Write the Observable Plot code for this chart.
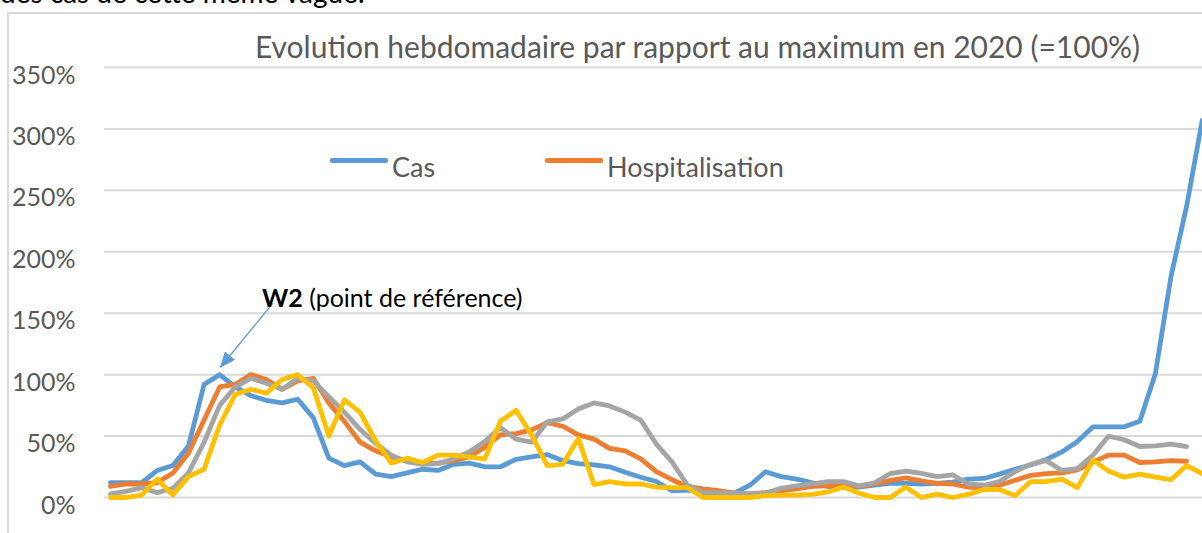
<!DOCTYPE html>
<html><head><meta charset="utf-8">
<script src="https://cdn.jsdelivr.net/npm/d3@7"></script>
<script src="https://cdn.jsdelivr.net/npm/@observablehq/plot@0.6"></script>
<style>
html,body{margin:0;padding:0;background:#fff;}
#wrap{position:relative;width:1202px;height:533px;overflow:hidden;font-family:Lato,sans-serif;}
#frame{position:absolute;left:7px;top:12px;width:1400px;height:800px;border:2px solid #d9d9d9;box-sizing:border-box;}
#above{position:absolute;left:0;top:-23.6px;font-size:28px;line-height:33.6px;color:#000;white-space:nowrap;}
#title{position:absolute;left:0;width:1395px;top:28.4px;text-align:center;font-size:30px;line-height:36px;color:#595959;white-space:nowrap;}
.leg{position:absolute;top:150.5px;font-size:27px;line-height:32.4px;color:#595959;white-space:nowrap;}
.legline{position:absolute;height:5px;top:157.5px;border-radius:2px;}
#ann{position:absolute;left:262px;top:282.3px;font-size:25px;line-height:30px;color:#000;white-space:nowrap;}
#chart{position:absolute;left:0;top:0;}
</style>
</head><body>
<div id="wrap">
  <div id="above">des cas de cette même vague.</div>
  <div id="frame"></div>
  <div id="chart"></div>
  <div id="title">Evolution hebdomadaire par rapport au maximum en 2020 (=100%)</div>
  <div class="legline" style="left:330px;width:58px;background:#5B9BD5"></div>
  <div class="leg" style="left:392px">Cas</div>
  <div class="legline" style="left:545px;width:58px;background:#ED7D31"></div>
  <div class="leg" style="left:607px">Hospitalisation</div>
  <div id="ann"><b>W2</b> (point de référence)</div>
</div>
<script>
// Weekly values relative to 2020 maximum (1 = 100%)
const seriesNames = ["Cas", "Hospitalisation", "Série 3", "Série 4"];
const seriesColors = ["#5B9BD5", "#ED7D31", "#A5A5A5", "#FFC000"];
const yTicks = [0, 0.5, 1, 1.5, 2, 2.5, 3, 3.5];

const cas = [12,12,12,22,26,42,92,100,90,83,
  79,77,80,65,32,26,29,19,17,20,
  23,22,27,28,25,25,31,33,35,30,
  27.5,26.5,25,20.5,16.5,13,5.5,6,4.5,4,
  3.5,10,21,17,15,12,9,8,8.5,10,
  11.5,11.5,11,11.5,12.5,15,15.5,19,23,26.5,
  31,37,45.5,57.5,57.5,57.5,62,101,180,237,
  307];
const hospitalisation = [9,11,11,12,20,36,63,90,92,100,
  96,88,95,97,77,62,45,38,33,30,
  28,28,30,33,41,51,52,55,61,58,
  51,47.5,40,38,31.5,21,14.5,9,7,5.5,
  3.5,3,4,5.5,7,9,9.5,10,9,11,
  14,16,13.5,11.5,11,8.5,7.5,10,14,18,
  19.5,20,22.5,29,34.5,34.5,28.5,29,30,29.5];
const serie3 = [3,5,8,4,7.5,20,45,75,90,97,
  93,88,97,95,82,69.5,55.5,44,34.5,29,
  27,27.5,31.5,37,45.5,57,47.5,45,61.5,64,
  72,77,74.5,69.5,63,43.5,29,10,4,4,
  3.5,3,3.5,7.5,9.5,11,13,13,9.5,12,
  19.5,21.5,19.7,17,18.5,11,10,13,21,27,
  30,22,23.5,34.5,50,47,41.5,42,43.5,41.5];
const serie4 = [0,0,2,15,2,17,23,59,84,88,
  85,96,100,89.5,50,79.5,69.5,46,28,32,
  28.5,34.5,34.5,33,31.5,62,71,51,26,27,
  48,10.5,13,11,11,8.5,8,8,0,0,
  0,0,1.5,2,2,2.5,4.5,8.5,3.5,0,
  0,8.5,0,2.7,0,2.5,6.5,6.5,1.5,13,
  13,15,8,30.5,21.5,16.5,19,16.5,14.5,26,19.5];

// Annotation arrow (data coordinates: week index, ratio)
const annFrom = {i: 10.4, v: 1.58};
const annTo = {i: 7.05, v: 1.06};

const allSeries = [cas, hospitalisation, serie3, serie4];
const rows = allSeries.flatMap((vals, k) => vals.map((v, i) => ({series: seriesNames[k], i, v: v / 100})));

const pct = d => Math.round(d * 100) + "%";

const chart = Plot.plot({
  width: 1202, height: 533,
  marginLeft: 104, marginRight: 0, marginTop: 67, marginBottom: 36,
  style: {background: "transparent", fontFamily: "Lato, sans-serif", overflow: "visible"},
  x: {domain: [0, 70], range: [110, 1201.7], axis: null},
  y: {domain: [0, 3.5], axis: null},
  color: {domain: seriesNames, range: seriesColors},
  marks: [
    Plot.gridY(yTicks, {stroke: "#d9d9d9", strokeOpacity: 1, strokeWidth: 2}),
    Plot.axisY(yTicks, {tickSize: 0, tickPadding: 29, fontSize: 25, fill: "#595959", dy: 8, tickFormat: pct}),
    Plot.line(rows, {x: "i", y: "v", z: "series", stroke: "series", strokeWidth: 4.8, strokeLinejoin: "round", strokeLinecap: "round"}),
    Plot.link([{x1: annFrom.i, y1: annFrom.v, x2: annTo.i, y2: annTo.v}], {x1: "x1", y1: "y1", x2: "x2", y2: "y2", stroke: "#5B9BD5", strokeWidth: 1.3, className: "annarrow"})
  ]
});
document.getElementById("chart").appendChild(chart);

// filled arrowhead for the annotation
const ns = "http://www.w3.org/2000/svg";
const defs = document.createElementNS(ns, "defs");
const marker = document.createElementNS(ns, "marker");
marker.setAttribute("id", "ahead");
marker.setAttribute("markerUnits", "userSpaceOnUse");
marker.setAttribute("viewBox", "0 0 16 13");
marker.setAttribute("markerWidth", "16");
marker.setAttribute("markerHeight", "13");
marker.setAttribute("refX", "15");
marker.setAttribute("refY", "6.5");
marker.setAttribute("orient", "auto");
const mp = document.createElementNS(ns, "path");
mp.setAttribute("d", "M0,0 L16,6.5 L0,13 Z");
mp.setAttribute("fill", "#5B9BD5");
marker.appendChild(mp);
defs.appendChild(marker);
chart.insertBefore(defs, chart.firstChild);
const ap = chart.querySelector(".annarrow path");
if (ap) ap.setAttribute("marker-end", "url(#ahead)");
</script>
</body></html>
